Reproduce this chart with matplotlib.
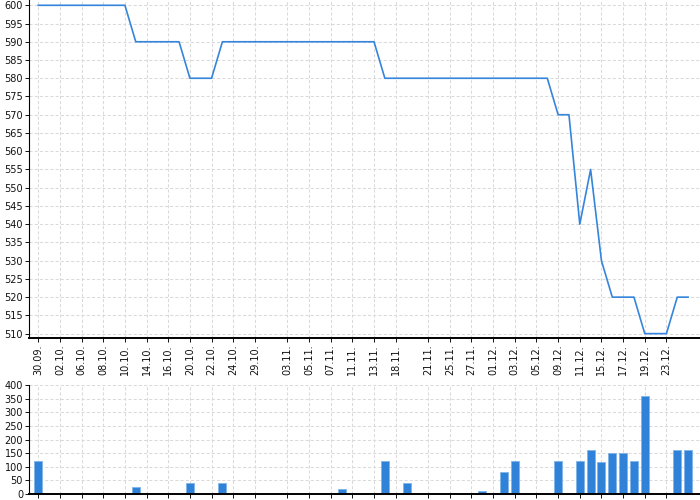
import matplotlib
matplotlib.use("Agg")
import matplotlib.pyplot as plt

dates = ["30.09.", "01.10.", "02.10.", "04.10.", "06.10.", "07.10.", "08.10.", "09.10.", "10.10.", "13.10.",
         "14.10.", "15.10.", "16.10.", "17.10.", "20.10.", "21.10.", "22.10.", "23.10.", "24.10.", "27.10.",
         "29.10.", "30.10.", "31.10.", "03.11.", "04.11.", "05.11.", "06.11.", "07.11.", "08.11.", "11.11.",
         "12.11.", "13.11.", "14.11.", "18.11.", "19.11.", "20.11.", "21.11.", "24.11.", "25.11.", "26.11.",
         "27.11.", "28.11.", "01.12.", "02.12.", "03.12.", "04.12.", "05.12.", "08.12.", "09.12.", "10.12.",
         "11.12.", "12.12.", "15.12.", "16.12.", "17.12.", "18.12.", "19.12.", "22.12.", "23.12.", "24.12.",
         "25.12."]

price = [600, 600, 600, 600, 600, 600, 600, 600, 600, 590,
         590, 590, 590, 590, 580, 580, 580, 590, 590, 590,
         590, 590, 590, 590, 590, 590, 590, 590, 590, 590,
         590, 590, 580, 580, 580, 580, 580, 580, 580, 580,
         580, 580, 580, 580, 580, 580, 580, 580, 570, 570,
         540, 555, 530, 520, 520, 520, 510, 510, 510, 520,
         520]

volume = [120, 3, 0, 0, 0, 0, 0, 0, 0, 25,
          0, 0, 0, 0, 40, 0, 0, 40, 0, 0,
          0, 0, 0, 0, 0, 0, 0, 0, 20, 0,
          0, 0, 120, 0, 40, 0, 0, 0, 0, 0,
          0, 10, 0, 80, 120, 0, 0, 0, 120, 0,
          120, 160, 118, 150, 150, 120, 360, 0, 0, 160,
          160]

shown_labels = ["30.09.", "02.10.", "06.10.", "08.10.", "10.10.", "14.10.", "16.10.", "20.10.", "22.10.",
                "24.10.", "29.10.", "03.11.", "05.11.", "07.11.", "11.11.", "13.11.", "18.11.", "21.11.",
                "25.11.", "27.11.", "01.12.", "03.12.", "05.12.", "09.12.", "11.12.", "15.12.", "17.12.",
                "19.12.", "23.12."]

price_ticks = list(range(510, 601, 5))
volume_ticks = list(range(0, 401, 50))

line_color = "#3585dc"
bar_color = "#2f82d8"
grid_kw = dict(color="#dadada", linestyle=(0, (3, 2)), linewidth=0.75)

W, H = 700, 500
fig = plt.figure(figsize=(7, 5), dpi=100)

x = list(range(len(dates)))
tick_pos = [dates.index(d) for d in shown_labels]

ax1 = fig.add_axes([29.3 / W, (H - 338) / H, (W - 29.3) / W, 338 / H])
ax1.plot(x, price, color=line_color, linewidth=1.2)
ax1.set_xlim(-0.83, 61.1)
ax1.set_ylim(508.8, 601.45)
ax1.set_yticks(price_ticks)
ax1.set_xticks(tick_pos)
ax1.set_xticklabels(shown_labels, rotation=90)
ax1.grid(True, **grid_kw)
ax1.set_axisbelow(True)

ax2 = fig.add_axes([29.3 / W, 6 / H, (W - 29.3) / W, 109 / H])
ax2.bar(x, volume, width=0.74, color=bar_color, edgecolor="#7fb3ea", linewidth=0.6)
ax2.set_xlim(-0.83, 61.1)
ax2.set_ylim(0, 400)
ax2.set_yticks(volume_ticks)
ax2.set_xticks(tick_pos)
ax2.set_xticklabels([])
ax2.tick_params(axis="x", length=0)
ax2.grid(True, **grid_kw)
ax2.set_axisbelow(True)

for ax in (ax1, ax2):
    ax.spines["top"].set_visible(False)
    ax.spines["right"].set_visible(False)
    ax.spines["left"].set_linewidth(0.8)
    ax.spines["bottom"].set_linewidth(1.4)
    ax.tick_params(labelsize=7, length=3, width=0.7, pad=1.5, colors="#111111")

fig.savefig("out.png", dpi=100)
